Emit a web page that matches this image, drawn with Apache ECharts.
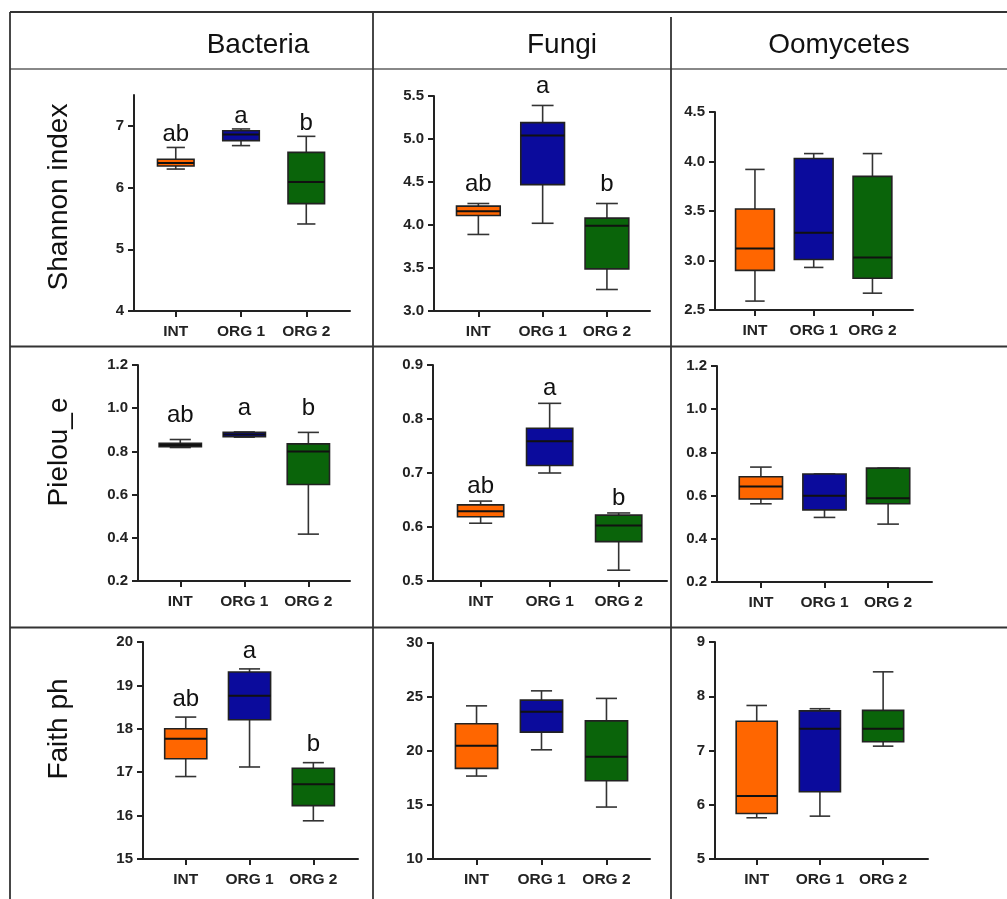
<!DOCTYPE html>
<html>
<head>
<meta charset="utf-8">
<style>
  html, body { margin: 0; padding: 0; background: #fff; }
  #main { width: 1007px; height: 899px; }
</style>
<script src="https://cdn.jsdelivr.net/npm/echarts@6/dist/echarts.min.js"></script>
</head>
<body>
<div id="main"></div>
<script>
// groups and box colours
var groups = ['INT', 'ORG 1', 'ORG 2'];
var taxa = ['Bacteria', 'Fungi', 'Oomycetes'];
var metrics = ['Shannon index', 'Pielou_e', 'Faith ph'];
var boxColors = ['#ff6600', '#0b0b9c', '#0a640a'];

// each box: [min, Q1, median, Q3, max]
var shannonBacteria = [[6.30, 6.35, 6.40, 6.46, 6.65], [6.68, 6.76, 6.86, 6.92, 6.95], [5.41, 5.74, 6.09, 6.57, 6.83]];
var shannonFungi = [[3.89, 4.11, 4.16, 4.22, 4.25], [4.02, 4.47, 5.04, 5.19, 5.39], [3.25, 3.49, 3.99, 4.08, 4.25]];
var shannonOomycetes = [[2.59, 2.90, 3.12, 3.52, 3.92], [2.93, 3.01, 3.28, 4.03, 4.08], [2.67, 2.82, 3.03, 3.85, 4.08]];
var pielouBacteria = [[0.818, 0.822, 0.830, 0.838, 0.855], [0.866, 0.868, 0.878, 0.889, 0.890], [0.417, 0.647, 0.800, 0.835, 0.888]];
var pielouFungi = [[0.607, 0.619, 0.629, 0.641, 0.648], [0.700, 0.714, 0.759, 0.783, 0.829], [0.520, 0.573, 0.603, 0.622, 0.626]];
var pielouOomycetes = [[0.562, 0.584, 0.642, 0.687, 0.732], [0.499, 0.534, 0.599, 0.700, 0.700], [0.468, 0.562, 0.588, 0.727, 0.727]];
var faithBacteria = [[16.90, 17.31, 17.77, 18.00, 18.27], [17.12, 18.21, 18.76, 19.31, 19.38], [15.88, 16.23, 16.72, 17.09, 17.22]];
var faithFungi = [[17.68, 18.39, 20.48, 22.52, 24.18], [20.11, 21.75, 23.63, 24.71, 25.57], [14.81, 17.24, 19.46, 22.79, 24.87]];
var faithOomycetes = [[5.76, 5.84, 6.16, 7.54, 7.83], [5.79, 6.24, 7.40, 7.73, 7.77], [7.08, 7.16, 7.40, 7.74, 8.45]];

// significance letters
var sigLetters = ['ab', 'a', 'b'];

// y tick labels
var shannonBacteriaTicks = [4, 5, 6, 7];
var shannonFungiTicks = [3.0, 3.5, 4.0, 4.5, 5.0, 5.5];
var shannonOomycetesTicks = [2.5, 3.0, 3.5, 4.0, 4.5];
var pielouBacteriaTicks = [0.2, 0.4, 0.6, 0.8, 1.0, 1.2];
var pielouFungiTicks = [0.5, 0.6, 0.7, 0.8, 0.9];
var pielouOomycetesTicks = [0.2, 0.4, 0.6, 0.8, 1.0, 1.2];
var faithBacteriaTicks = [15, 16, 17, 18, 19, 20];
var faithFungiTicks = [10, 15, 20, 25, 30];
var faithOomycetesTicks = [5, 6, 7, 8, 9];

var FONT = '"Liberation Sans", Arial, Helvetica, sans-serif';

// one entry per panel, row by row
var panels = [
  { data: shannonBacteria, ticks: shannonBacteriaTicks, yMin: 4, yMax: 7.5, dec: 0, letters: sigLetters, letterOff: 13,
    left: 134, top: 95, width: 216, height: 216, xMin: -0.64, xMax: 2.67, boxRatio: 0.56 },
  { data: shannonFungi, ticks: shannonFungiTicks, yMin: 3, yMax: 5.5, dec: 1, letters: sigLetters, letterOff: 19,
    left: 434, top: 96, width: 216, height: 215, xMin: -0.69, xMax: 2.67, boxRatio: 0.68 },
  { data: shannonOomycetes, ticks: shannonOomycetesTicks, yMin: 2.5, yMax: 4.5, dec: 1, letters: null,
    left: 715, top: 112, width: 198, height: 198, xMin: -0.68, xMax: 2.69, boxRatio: 0.66 },
  { data: pielouBacteria, ticks: pielouBacteriaTicks, yMin: 0.2, yMax: 1.2, dec: 1, letters: sigLetters, letterOff: 24,
    left: 138, top: 365, width: 212, height: 216, xMin: -0.66, xMax: 2.65, boxRatio: 0.66 },
  { data: pielouFungi, ticks: pielouFungiTicks, yMin: 0.5, yMax: 0.9, dec: 1, letters: sigLetters, letterOff: 15,
    left: 433, top: 365, width: 234, height: 216, xMin: -0.69, xMax: 2.70, boxRatio: 0.67 },
  { data: pielouOomycetes, ticks: pielouOomycetesTicks, yMin: 0.2, yMax: 1.2, dec: 1, letters: null,
    left: 717, top: 366, width: 215, height: 216, xMin: -0.69, xMax: 2.69, boxRatio: 0.68 },
  { data: faithBacteria, ticks: faithBacteriaTicks, yMin: 15, yMax: 20, dec: 0, letters: sigLetters, letterOff: 18,
    left: 143, top: 642, width: 215, height: 217, xMin: -0.67, xMax: 2.70, boxRatio: 0.66 },
  { data: faithFungi, ticks: faithFungiTicks, yMin: 10, yMax: 30, dec: 0, letters: null,
    left: 433, top: 643, width: 217, height: 216, xMin: -0.67, xMax: 2.67, boxRatio: 0.65 },
  { data: faithOomycetes, ticks: faithOomycetesTicks, yMin: 5, yMax: 9, dec: 0, letters: null,
    left: 715, top: 642, width: 213, height: 217, xMin: -0.66, xMax: 2.71, boxRatio: 0.65 }
];

function makeRender(p) {
  return function (params, api) {
    var x = api.value(0);
    var lo = api.coord([x, api.value(1)]);
    var q1 = api.coord([x, api.value(2)]);
    var md = api.coord([x, api.value(3)]);
    var q3 = api.coord([x, api.value(4)]);
    var hi = api.coord([x, api.value(5)]);
    var w = api.size([p.boxRatio, 0])[0];
    var cx = md[0];
    var half = w / 2;
    var cap = w * 0.25;
    var wl = { stroke: '#333', lineWidth: 1.6 };
    var kids = [
      { type: 'line', shape: { x1: cx, y1: hi[1], x2: cx, y2: q3[1] }, style: wl },
      { type: 'line', shape: { x1: cx, y1: q1[1], x2: cx, y2: lo[1] }, style: wl },
      { type: 'line', shape: { x1: cx - cap, y1: hi[1], x2: cx + cap, y2: hi[1] }, style: wl },
      { type: 'line', shape: { x1: cx - cap, y1: lo[1], x2: cx + cap, y2: lo[1] }, style: wl },
      { type: 'rect', shape: { x: cx - half, y: q3[1], width: w, height: q1[1] - q3[1] },
        style: { fill: boxColors[params.dataIndex], stroke: '#222', lineWidth: 1.6 } },
      { type: 'line', shape: { x1: cx - half, y1: md[1], x2: cx + half, y2: md[1] },
        style: { stroke: '#111', lineWidth: 2 } }
    ];
    if (p.letters) {
      kids.push({ type: 'text', x: cx, y: hi[1] - p.letterOff,
        style: { text: p.letters[params.dataIndex], font: '24px ' + FONT, fill: '#111',
          align: 'center', verticalAlign: 'middle' } });
    }
    return { type: 'group', children: kids };
  };
}

var grid = [], xAxis = [], yAxis = [], series = [];
panels.forEach(function (p, i) {
  grid.push({ left: p.left, top: p.top, width: p.width, height: p.height });
  xAxis.push({
    type: 'value', gridIndex: i, min: p.xMin, max: p.xMax,
    axisLine: { show: true, onZero: false, lineStyle: { color: '#222', width: 2 } },
    axisTick: { show: true, length: 6, lineStyle: { color: '#222', width: 2 }, customValues: [0, 1, 2] },
    axisLabel: { customValues: [0, 1, 2], margin: 13, color: '#222', fontWeight: 'bold', fontSize: 15.5,
      fontFamily: FONT, formatter: function (v) { return groups[Math.round(v)]; } },
    splitLine: { show: false }
  });
  yAxis.push({
    type: 'value', gridIndex: i, min: p.yMin, max: p.yMax,
    axisLine: { show: true, onZero: false, lineStyle: { color: '#222', width: 2 } },
    axisTick: { show: true, length: 6, lineStyle: { color: '#222', width: 2 }, customValues: p.ticks },
    axisLabel: { customValues: p.ticks, margin: 10, color: '#222', fontWeight: 'bold', fontSize: 15,
      fontFamily: FONT, formatter: function (v) { return v.toFixed(p.dec); } },
    splitLine: { show: false }
  });
  series.push({
    type: 'custom', coordinateSystem: 'cartesian2d', xAxisIndex: i, yAxisIndex: i,
    renderItem: makeRender(p), clip: false, silent: true,
    encode: { x: 0, y: [1, 2, 3, 4, 5] },
    data: p.data.map(function (b, k) { return [k].concat(b); })
  });
});

function hline(y, x1, x2, color) {
  return { type: 'line', shape: { x1: x1, y1: y, x2: x2, y2: y }, style: { stroke: color, lineWidth: 2 }, silent: true };
}
function vline(x, y1, y2) {
  return { type: 'line', shape: { x1: x, y1: y1, x2: x, y2: y2 }, style: { stroke: '#333', lineWidth: 1.8 }, silent: true };
}
var graphic = [
  hline(12, 10, 1007, '#333'),
  hline(69, 10, 1007, '#888'),
  hline(346.5, 10, 1007, '#333'),
  hline(627.5, 10, 1007, '#333'),
  vline(10, 12, 899),
  vline(373, 12, 899),
  vline(671, 17, 899)
];
var headX = [258, 562, 839];
taxa.forEach(function (t, i) {
  graphic.push({ type: 'text', x: headX[i], y: 45,
    style: { text: t, font: '28px ' + FONT, fill: '#111', align: 'center', verticalAlign: 'middle' } });
});
var rowY = [197, 452, 729];
metrics.forEach(function (m, i) {
  graphic.push({ type: 'text', x: 59, y: rowY[i], rotation: Math.PI / 2,
    style: { text: m, font: '28px ' + FONT, fill: '#111', align: 'center', verticalAlign: 'middle' } });
});

var chart = echarts.init(document.getElementById('main'), null, { renderer: 'canvas' });
chart.setOption({
  animation: false,
  backgroundColor: '#fff',
  grid: grid,
  xAxis: xAxis,
  yAxis: yAxis,
  series: series,
  graphic: graphic
});
</script>
</body>
</html>
